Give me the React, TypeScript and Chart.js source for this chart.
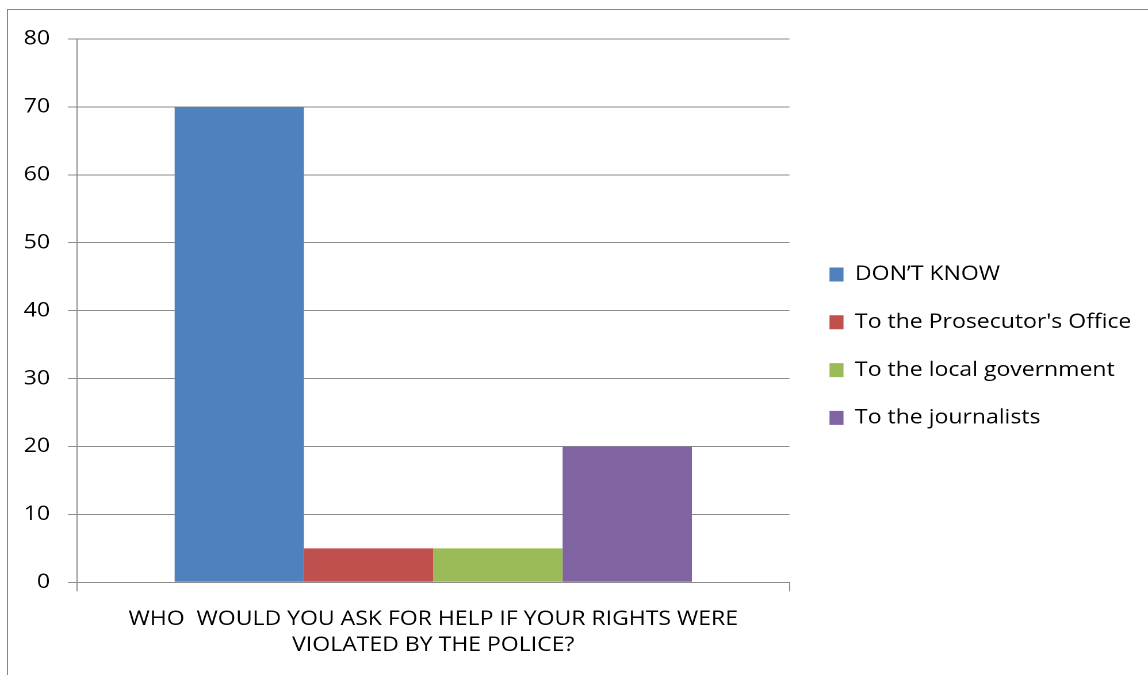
import React, { useEffect, useRef } from "react";
import { Chart, registerables } from "chart.js";

Chart.register(...registerables);

// ---- data ----
const categories = [["WHO  WOULD YOU ASK FOR HELP IF YOUR RIGHTS WERE", "VIOLATED BY THE POLICE?"]];
const seriesNames = ["DON\u2019T KNOW", "To the Prosecutor's Office", "To the local government", "To the journalists"];
const dontKnow = [70];
const prosecutor = [5];
const localGov = [5];
const journalists = [20];
const seriesColors = ["#4F81BD", "#C0504D", "#9BBB59", "#8064A2"];
const yMin = 0;
const yMax = 80;
const yStep = 10;

// ---- layout (page px -> canvas units; canvas is stretched horizontally like the reference) ----
const CSS_W = 1140;
const CSS_H = 665;
const W = 991;
const S = CSS_W / W;
const OFF_X = 8;
const OFF_Y = 10;
const cx = (px: number) => (px - OFF_X) / S;
const FONT = "'Open Sans', 'Noto Sans', sans-serif";
const FS = 20;
const GRID = "#8c8c8c";
const FRAME = "#868686";

export default function App() {
  const ref = useRef<HTMLCanvasElement | null>(null);

  useEffect(() => {
    const canvas = ref.current;
    if (!canvas) return;
    canvas.width = W;
    canvas.height = CSS_H;

    const targetLeft = cx(77);
    const targetRight = cx(789.5);
    const legendPad = cx(829.5) - targetRight;
    const boxW = 14 / S;
    const itemLine = 47.8 - legendPad;
    const chartTop = 39 - OFF_Y;
    const chartBottom = 582.3 - OFF_Y;
    const firstTextMid = 274.5 - OFF_Y;
    const cursorY = firstTextMid - FS / 2;
    const titleH = cursorY - chartTop - legendPad;
    const xHeight = CSS_H - chartBottom;

    const mctx = document.createElement("canvas").getContext("2d")!;
    mctx.font = `normal ${FS}px ${FONT}`;
    let maxText = 0;
    seriesNames.forEach((n) => (maxText = Math.max(maxText, mctx.measureText(n).width)));
    const natural = legendPad + boxW + FS / 2 + maxText + 10;
    const legendSpace = W - targetRight;
    const padRight = Math.max(0, legendSpace - natural);

    const values = [dontKnow, prosecutor, localGov, journalists];

    const chart = new Chart(canvas, {
      type: "bar",
      data: {
        labels: categories as any,
        datasets: seriesNames.map((name, i) => ({
          label: name,
          data: values[i],
          backgroundColor: seriesColors[i],
          borderWidth: 0,
          categoryPercentage: 0.726,
          barPercentage: 1,
        })),
      },
      options: {
        responsive: false,
        animation: false,
        devicePixelRatio: 2,
        layout: { padding: { top: chartTop, left: 0, right: padRight, bottom: 0 } },
        plugins: {
          tooltip: { enabled: false },
          title: { display: false },
          legend: {
            position: "right",
            align: "start",
            maxWidth: legendSpace,
            title: {
              display: true,
              text: "",
              padding: 0,
              font: { family: FONT, size: FS, lineHeight: `${titleH}px` },
            },
            labels: {
              boxWidth: boxW,
              boxHeight: 14,
              padding: legendPad,
              color: "#000",
              font: { family: FONT, size: FS, lineHeight: `${itemLine}px` },
              generateLabels: (c: any) =>
                c.data.datasets.map((ds: any, i: number) => ({
                  text: [ds.label],
                  fillStyle: ds.backgroundColor,
                  strokeStyle: ds.backgroundColor,
                  lineWidth: 0,
                  hidden: false,
                  datasetIndex: i,
                  fontColor: "#000",
                })),
            },
          },
        },
        scales: {
          x: {
            offset: true,
            grid: {
              display: true,
              drawOnChartArea: false,
              drawTicks: true,
              tickLength: 9,
              color: GRID,
              offset: true,
            },
            border: { display: true, color: GRID },
            ticks: {
              color: "#000",
              padding: 15,
              maxRotation: 0,
              minRotation: 0,
              autoSkip: false,
              font: { family: FONT, size: FS, lineHeight: "26px" },
            },
            afterFit: (scale: any) => {
              scale.height = xHeight;
            },
          },
          y: {
            min: yMin,
            max: yMax,
            ticks: {
              stepSize: yStep,
              color: "#000",
              padding: cx(68) - cx(50),
              font: { family: FONT, size: FS },
            },
            grid: {
              color: GRID,
              drawTicks: true,
              tickLength: targetLeft - cx(68),
            },
            border: { display: true, color: GRID },
            afterFit: (scale: any) => {
              scale.width = targetLeft;
            },
          },
        },
      },
    });

    return () => {
      chart.destroy();
    };
  }, []);

  return (
    <div
      style={{
        position: "fixed",
        left: 0,
        top: 0,
        width: 1148,
        height: 675,
        overflow: "hidden",
        background: "#fff",
      }}
    >
      <canvas
        ref={ref}
        width={W}
        height={CSS_H}
        style={{
          position: "absolute",
          left: OFF_X,
          top: OFF_Y,
          width: `${CSS_W}px`,
          height: `${CSS_H}px`,
        }}
      />
      <div style={{ position: "absolute", left: 8, top: 658, width: 1140, height: 17, background: "#fff", zIndex: 5 }} />
      <div style={{ position: "absolute", left: 7, top: 9, width: 1141, height: 1, background: FRAME, zIndex: 6 }} />
      <div style={{ position: "absolute", left: 7, top: 9, width: 1, height: 666, background: FRAME, zIndex: 6 }} />
    </div>
  );
}
